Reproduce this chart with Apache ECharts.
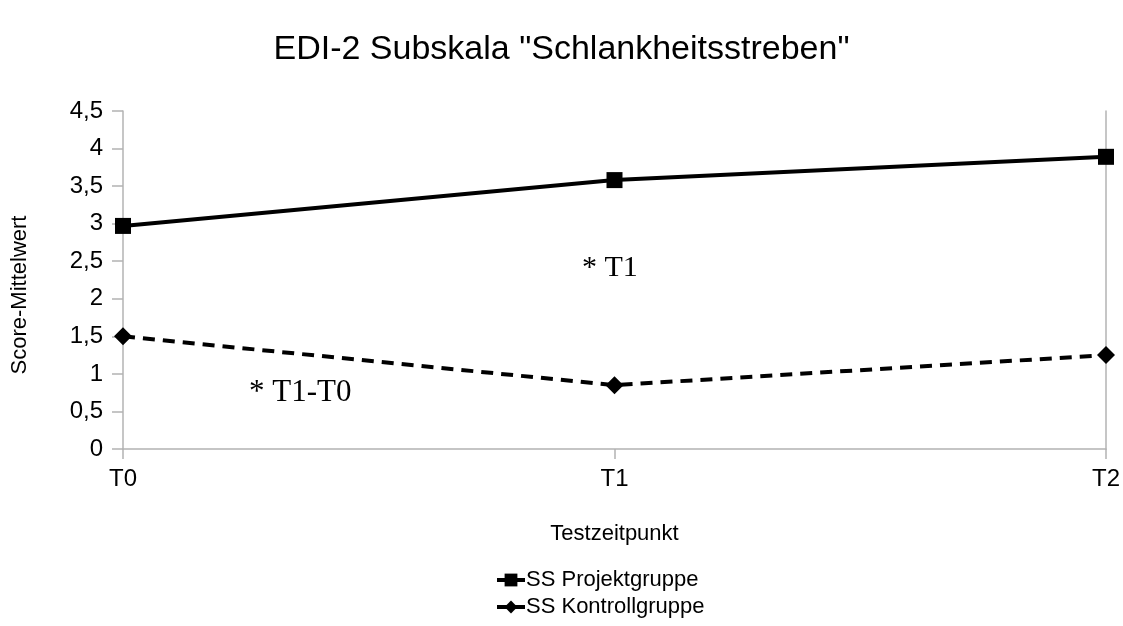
<!DOCTYPE html>
<html>
<head>
<meta charset="utf-8">
<script src="https://cdn.jsdelivr.net/npm/echarts@6/dist/echarts.min.js"></script>
<style>
  html, body { margin: 0; padding: 0; background: #fff; }
  #chart { width: 1123px; height: 626px; }
</style>
</head>
<body>
<div id="chart"></div>
<script>
// data
const categories = ['T0', 'T1', 'T2'];
const projektgruppe = [2.97, 3.58, 3.89];
const kontrollgruppe = [1.5, 0.85, 1.25];
const yTicks = { min: 0, max: 4.5, interval: 0.5 };

const chart = echarts.init(document.getElementById('chart'));
const axisGray = '#b3b3b3';
const font = 'Liberation Sans, Arial, sans-serif';
const serif = 'Liberation Serif, Times New Roman, serif';

chart.setOption({
  animation: false,
  title: {
    text: 'EDI-2 Subskala "Schlankheitsstreben"',
    left: 'center',
    top: 28,
    textStyle: { fontFamily: font, fontSize: 34, fontWeight: 'normal', color: '#000' }
  },
  grid: { left: 123, right: 16, top: 111, bottom: 177 },
  legend: {
    orient: 'vertical',
    left: 490,
    top: 564,
    itemGap: 5,
    itemWidth: 28,
    itemHeight: 16,
    lineStyle: { width: 4, type: 'solid' },
    textStyle: { fontFamily: font, fontSize: 22, color: '#000', padding: [0, 0, 0, -4] },
    data: ['SS Projektgruppe', 'SS Kontrollgruppe']
  },
  xAxis: {
    type: 'category',
    data: categories,
    boundaryGap: false,
    name: 'Testzeitpunkt',
    nameLocation: 'middle',
    nameGap: 74,
    nameTextStyle: { fontFamily: font, fontSize: 22, color: '#000' },
    axisLine: { lineStyle: { color: axisGray, width: 1.5 } },
    axisTick: { show: true, length: 10, lineStyle: { color: axisGray, width: 1.5 } },
    axisLabel: { fontFamily: font, fontSize: 24, color: '#000', margin: 18 },
    splitLine: { show: false }
  },
  yAxis: [{
    type: 'value',
    min: yTicks.min,
    max: yTicks.max,
    interval: yTicks.interval,
    name: 'Score-Mittelwert',
    nameLocation: 'middle',
    nameGap: 92,
    nameTextStyle: { fontFamily: font, fontSize: 22, color: '#000', padding: [0, 0, 0, -30] },
    axisLine: { show: true, lineStyle: { color: axisGray, width: 1.5 } },
    axisTick: { show: true, length: 11, lineStyle: { color: axisGray, width: 1.5 } },
    axisLabel: {
      fontFamily: font, fontSize: 24, color: '#000', margin: 20,
      formatter: v => String(v).replace('.', ',')
    },
    splitLine: { show: false }
  }, {
    type: 'value',
    position: 'right',
    min: yTicks.min,
    max: yTicks.max,
    interval: yTicks.interval,
    axisLine: { show: true, lineStyle: { color: axisGray, width: 1.5 } },
    axisTick: { show: false },
    axisLabel: { show: false },
    splitLine: { show: false }
  }],
  graphic: [
    { type: 'text', left: 582, top: 253, style: { text: '* T1', fontFamily: serif, fontSize: 30, fill: '#000' } },
    { type: 'text', left: 249, top: 377, style: { text: '* T1-T0', fontFamily: serif, fontSize: 31, fill: '#000' } }
  ],
  series: [{
    name: 'SS Projektgruppe',
    type: 'line',
    data: projektgruppe,
    symbol: 'rect',
    symbolSize: 16,
    itemStyle: { color: '#000' },
    lineStyle: { color: '#000', width: 4, type: 'solid' }
  }, {
    name: 'SS Kontrollgruppe',
    type: 'line',
    data: kontrollgruppe,
    symbol: 'diamond',
    symbolSize: 18,
    itemStyle: { color: '#000' },
    lineStyle: { color: '#000', width: 4, type: [12, 8] }
  }]
});
</script>
</body>
</html>
